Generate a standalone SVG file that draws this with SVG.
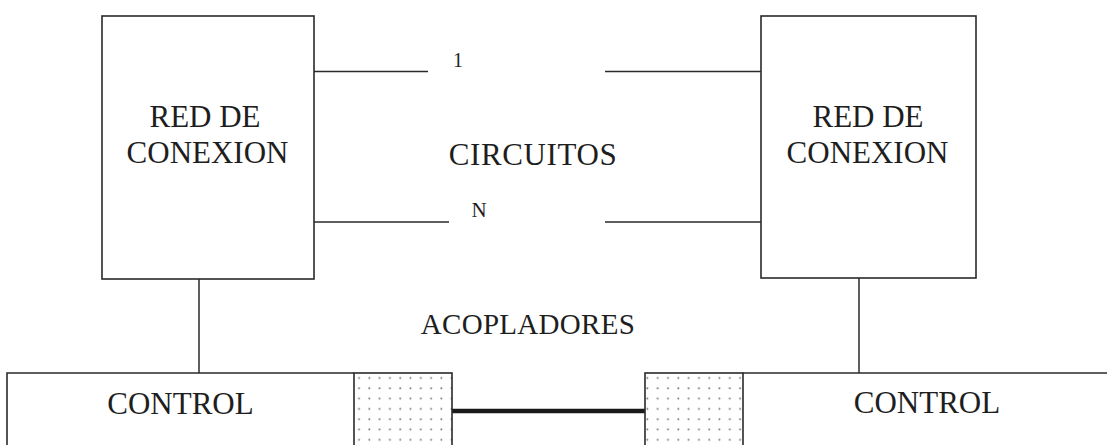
<svg xmlns="http://www.w3.org/2000/svg" width="1107" height="445" viewBox="0 0 1107 445">
<style>
.box{fill:none;stroke:#2a2a2a;stroke-width:1.6}
.ln{fill:none;stroke:#2a2a2a;stroke-width:1.5}
.thick{fill:none;stroke:#1a1a1a;stroke-width:4.5}
.t{font-family:"Liberation Serif","Times New Roman",serif;fill:#1e1e1e;text-anchor:middle}
.big{font-size:31px}
</style>
<defs>
<pattern id="dots" x="354" y="373" width="10.3" height="10.3" patternUnits="userSpaceOnUse">
<circle cx="5" cy="5" r="1" fill="#7a7a7a"/>
</pattern>
</defs>
<rect width="1107" height="445" fill="#ffffff"/>
<g id="connectors">
<line class="ln" x1="314" y1="71.5" x2="428" y2="71.5"/>
<line class="ln" x1="314" y1="222" x2="449" y2="222"/>
<line class="ln" x1="605" y1="71.5" x2="761" y2="71.5"/>
<line class="ln" x1="605" y1="222" x2="761" y2="222"/>
<line class="ln" x1="199" y1="279" x2="199" y2="373"/>
<line class="ln" x1="859" y1="278" x2="859" y2="373"/>
<line class="thick" x1="452" y1="411" x2="645" y2="411"/>
</g>
<g id="red-left">
<rect class="box" x="102" y="16" width="212" height="263"/>
<text class="t big" x="205" y="127">RED DE</text>
<text class="t big" x="207.5" y="163">CONEXION</text>
</g>
<g id="red-right">
<rect class="box" x="761" y="16" width="215" height="262"/>
<text class="t big" x="868" y="127">RED DE</text>
<text class="t big" x="867.5" y="163">CONEXION</text>
</g>
<g id="labels">
<text class="t" x="458" y="67" font-size="20">1</text>
<text class="t big" x="533" y="165" letter-spacing="0.6">CIRCUITOS</text>
<text class="t" x="479" y="217" font-size="21">N</text>
<text class="t" x="528" y="334" font-size="29" letter-spacing="0.3">ACOPLADORES</text>
</g>
<g id="control-left">
<path class="box" d="M7,446 V373 H354"/>
<text class="t big" x="180.5" y="414">CONTROL</text>
</g>
<g id="acoplador-left">
<rect x="354" y="373" width="98" height="80" fill="url(#dots)" stroke="#2a2a2a" stroke-width="1.6"/>
</g>
<g id="acoplador-right">
<rect x="645" y="373" width="98" height="80" fill="url(#dots)" stroke="#2a2a2a" stroke-width="1.6"/>
</g>
<g id="control-right">
<path class="box" d="M743,373 H1108"/>
<text class="t big" x="927" y="413">CONTROL</text>
</g>
</svg>
